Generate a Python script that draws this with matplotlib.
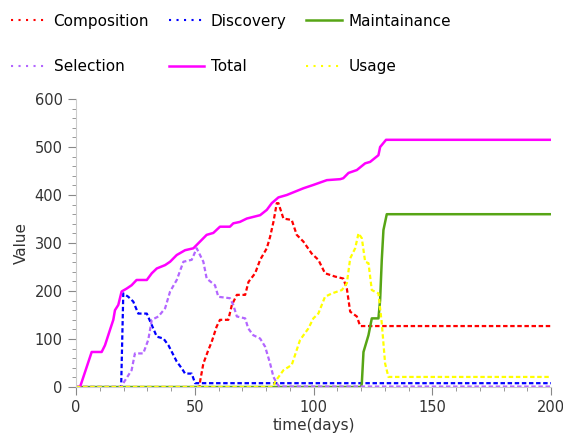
import matplotlib.pyplot as plt
from matplotlib.lines import Line2D
from matplotlib.ticker import MultipleLocator

# values (time in days, value)
comp_t = [0, 52, 52.2, 53.6, 55.7, 57.1, 59.2, 60.6, 64.1, 65.6, 67.7, 71.2, 72.6, 75.4, 77.5,
          80.3, 81.7, 83.1, 84.5, 85.2, 87.3, 90.8, 92.9, 95.7, 99.2, 102, 104.8, 109.1,
          112.5, 114, 115.4, 118.2, 119.6, 200]
comp_v = [0, 0, 11, 49, 77, 94, 126, 140, 140, 171, 192, 192, 219, 237, 265,
          289, 313, 344, 383, 383, 351, 348, 317, 303, 278, 265, 237, 230,
          226, 205, 157, 147, 127, 127]

disc_t = [0, 19, 19.9, 22, 24.1, 26.2, 29.8, 31.9, 34, 36.8, 38.9, 42.4, 44.5, 45.9,
          48.7, 50.1, 200]
disc_v = [0, 0, 195, 188, 178, 153, 153, 129, 105, 101, 87, 53, 39, 28,
          28, 8, 8]

main_t = [0, 120, 120.3, 121, 123.1, 124.5, 127.3, 128, 128.7, 129.4, 130.8, 200]
main_v = [0, 0, 8, 73, 108, 143, 143, 181, 265, 327, 360, 360]

sel_t = [0, 19, 19.9, 23.4, 24.8, 28.3, 30.4, 31.9, 34.7, 37.5, 39.6, 42.4, 45.2, 48.7,
         50.8, 53.6, 55, 58.5, 59.9, 64.8, 66.2, 67.7, 71.2, 72.5, 74.6, 77.5, 79.6,
         81.7, 83.1, 84.5, 85.5, 200]
sel_v = [0, 0, 8, 35, 70, 70, 98, 140, 147, 164, 199, 223, 261, 265,
         289, 261, 226, 212, 188, 185, 171, 147, 143, 122, 108, 101, 84,
         49, 21, 8, 1, 1]

total_t = [0, 1.7, 6.6, 10.8, 12.2, 14.3, 15.7, 16.4, 17.8, 19.2, 21.3, 23.4, 25.5, 29.8,
           31.9, 34, 37.5, 39.6, 42.4, 45.9, 49.4, 50.8, 55, 57.8, 60.6, 64.8, 66.2,
           69, 71.9, 77.5, 80.3, 82.4, 85.2, 88.7, 92.2, 95.7, 99.9, 105.6, 111.2,
           112.5, 114.7, 118.2, 121.7, 123.8, 127.3, 128, 130.5, 200]
total_v = [0, 0, 73, 73, 87, 119, 140, 160, 171, 199, 205, 212, 223, 223,
           237, 247, 254, 261, 275, 285, 289, 296, 317, 321, 334, 334, 341,
           344, 351, 358, 369, 383, 395, 400, 407, 414, 421, 431, 433,
           435, 446, 452, 466, 469, 483, 500, 515, 515]

usage_t = [0, 83, 83.8, 87.3, 90.8, 94.3, 97.8, 99.9, 102, 104.8, 107.7, 111.9, 114,
           115.4, 117.5, 118.9, 120.3, 121.7, 123.1, 124.5, 127.3, 128.7, 130.1,
           131.5, 200]
usage_v = [0, 0, 11, 35, 46, 98, 122, 143, 153, 188, 195, 202, 216,
           268, 289, 320, 310, 261, 258, 202, 195, 133, 49,
           21, 21]

fig = plt.figure(figsize=(5.63, 4.41), dpi=100)
ax = fig.add_axes([0.135, 0.1224, 0.844, 0.6531])

dash = (0, (2, 1.2))
ax.plot(comp_t, comp_v, color='#ff0000', lw=1.6, ls=dash)
ax.plot(disc_t, disc_v, color='#0000ff', lw=1.6, ls=dash)
ax.plot(main_t, main_v, color='#57a515', lw=1.8)
ax.plot(sel_t, sel_v, color='#b366ff', lw=1.6, ls=dash)
ax.plot(total_t, total_v, color='#ff00ff', lw=1.8)
ax.plot(usage_t, usage_v, color='#ffff00', lw=1.6, ls=dash)

ax.set_xlim(0, 200)
ax.set_ylim(0, 600)
ax.xaxis.set_major_locator(MultipleLocator(50))
ax.xaxis.set_minor_locator(MultipleLocator(10))
ax.yaxis.set_major_locator(MultipleLocator(100))
ax.yaxis.set_minor_locator(MultipleLocator(20))
ax.tick_params(which='both', colors='#888888', labelcolor='#333333', labelsize=10.5)
ax.tick_params(which='major', length=6)
ax.tick_params(which='minor', length=3)
for s in ['top', 'right']:
    ax.spines[s].set_visible(False)
for s in ['left', 'bottom']:
    ax.spines[s].set_color('#cccccc')
ax.set_xlabel('time(days)', fontsize=11, color='#333333', labelpad=2)
ax.set_ylabel('Value', fontsize=11, color='#333333')

# legend: dotted handles, filled row by row like the reference
dot = (0, (1, 2.6))
handles = [
    Line2D([], [], color='#ff0000', lw=1.5, ls=dot),
    Line2D([], [], color='#b366ff', lw=1.5, ls=dot),
    Line2D([], [], color='#0000ff', lw=1.5, ls=dot),
    Line2D([], [], color='#ff00ff', lw=1.8),
    Line2D([], [], color='#57a515', lw=1.8),
    Line2D([], [], color='#ffff00', lw=1.5, ls=dot),
]
labels = ['Composition', 'Selection', 'Discovery', 'Total', 'Maintainance', 'Usage']
fig.legend(handles, labels,
           loc='upper left', bbox_to_anchor=(-0.004, 1.0), ncol=3, frameon=False,
           fontsize=11, handlelength=2.3, handletextpad=0.45, columnspacing=1.3,
           labelspacing=2.0)

fig.savefig('out.png', dpi=100)
